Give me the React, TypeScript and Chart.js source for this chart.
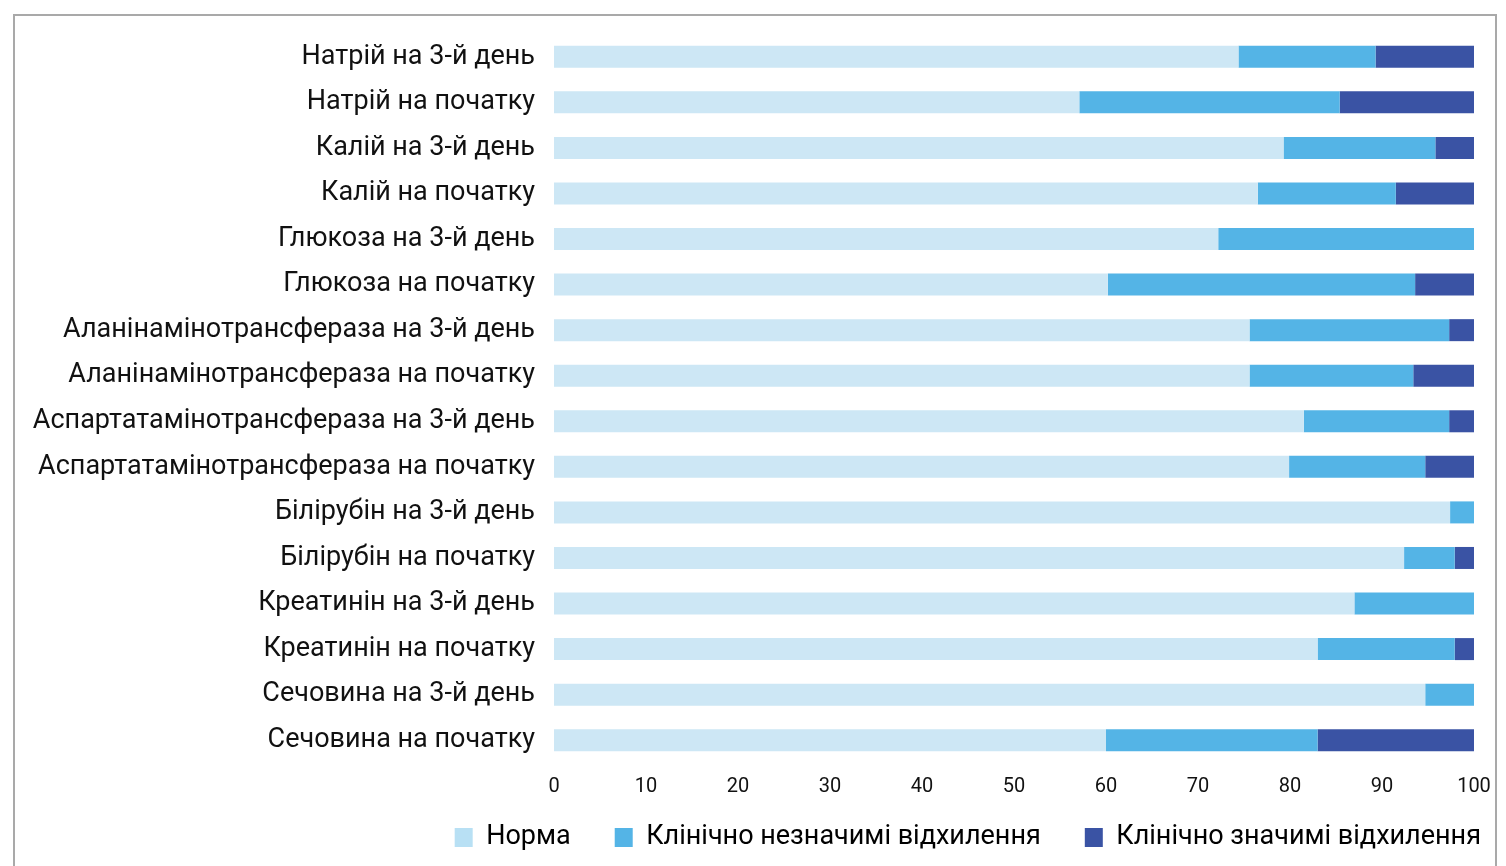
import React, { useEffect, useRef } from "react";
import { Chart, registerables } from "chart.js";

Chart.register(...registerables);

const categories = [
  "Натрій на 3-й день",
  "Натрій на початку",
  "Калій на 3-й день",
  "Калій на початку",
  "Глюкоза на 3-й день",
  "Глюкоза на початку",
  "Аланінамінотрансфераза на 3-й день",
  "Аланінамінотрансфераза на початку",
  "Аспартатамінотрансфераза на 3-й день",
  "Аспартатамінотрансфераза на початку",
  "Білірубін на 3-й день",
  "Білірубін на початку",
  "Креатинін на 3-й день",
  "Креатинін на початку",
  "Сечовина на 3-й день",
  "Сечовина на початку",
];

const normValues = [74.4, 57.1, 79.3, 76.5, 72.2, 60.2, 75.6, 75.6, 81.5, 79.9, 97.4, 92.4, 87.0, 83.0, 94.7, 60.0];
const minorValues = [14.9, 28.3, 16.5, 15.0, 27.8, 33.4, 21.7, 17.8, 15.8, 14.8, 2.6, 5.5, 13.0, 14.9, 5.3, 23.0];
const majorValues = [10.7, 14.6, 4.2, 8.5, 0, 6.4, 2.7, 6.6, 2.7, 5.3, 0, 2.1, 0, 2.1, 0, 17.0];

const seriesNames = ["Норма", "Клінічно незначимі відхилення", "Клінічно значимі відхилення"];
const seriesColors = ["#cde7f5", "#54b4e6", "#3a53a4"];
const legendColors = ["#b8e0f4", "#54b4e6", "#3a53a4"];

const FONT = "Roboto, 'Noto Sans', sans-serif";

export default function App() {
  const canvasRef = useRef<HTMLCanvasElement | null>(null);

  useEffect(() => {
    if (!canvasRef.current) return;
    const legendShift = {
      id: "legendShift",
      afterLayout(chart: any) {
        const l = chart.legend;
        if (l) {
          l.right = chart.width + 30;
          l.top -= 19;
          l.bottom -= 19;
        }
      },
    };
    const zeroPad = (scale: any) => {
      scale.paddingTop = 0;
      scale.paddingBottom = 0;
      scale.paddingLeft = 0;
      scale.paddingRight = 0;
    };
    const chart = new Chart(canvasRef.current, {
      type: "bar",
      data: {
        labels: categories,
        datasets: [normValues, minorValues, majorValues].map((d, i) => ({
          label: seriesNames[i],
          data: d,
          backgroundColor: seriesColors[i],
          borderWidth: 0,
          barPercentage: 0.483,
          categoryPercentage: 1,
        })),
      },
      options: {
        indexAxis: "y",
        responsive: false,
        animation: false,
        layout: { padding: { left: 9, right: 21, top: 18, bottom: 0 } },
        scales: {
          x: {
            stacked: true,
            min: 0,
            max: 100,
            grid: { display: false, drawTicks: false },
            border: { display: false },
            afterFit: (scale: any) => {
              scale.height = 36;
              zeroPad(scale);
            },
            ticks: {
              stepSize: 10,
              color: "#111",
              padding: 12,
              font: { family: FONT, size: 20 },
            },
          },
          y: {
            stacked: true,
            grid: { display: false, drawTicks: false },
            border: { display: false },
            afterFit: (scale: any) => {
              scale.width = 530;
              zeroPad(scale);
            },
            ticks: {
              color: "#111",
              padding: 19,
              font: { family: FONT, size: 27 },
            },
          },
        },
        plugins: {
          legend: {
            position: "bottom",
            align: "end",
            labels: {
              boxWidth: 18,
              boxHeight: 19,
              padding: 44,
              color: "#111",
              font: { family: FONT, size: 27 },
              generateLabels: () =>
                seriesNames.map((n, i) => ({
                  text: n,
                  fillStyle: legendColors[i],
                  strokeStyle: legendColors[i],
                  lineWidth: 0,
                  hidden: false,
                  datasetIndex: i,
                })),
            },
          },
          tooltip: { enabled: false },
        },
      },
      plugins: [legendShift],
    });
    return () => chart.destroy();
  }, []);

  return (
    <div
      style={{
        position: "fixed",
        left: 13,
        top: 14,
        width: 1480,
        height: 870,
        border: "2px solid #a9a9a9",
        background: "#fff",
        boxSizing: "content-box",
      }}
    >
      <canvas ref={canvasRef} width={1480} height={864} style={{ display: "block" }} />
    </div>
  );
}
